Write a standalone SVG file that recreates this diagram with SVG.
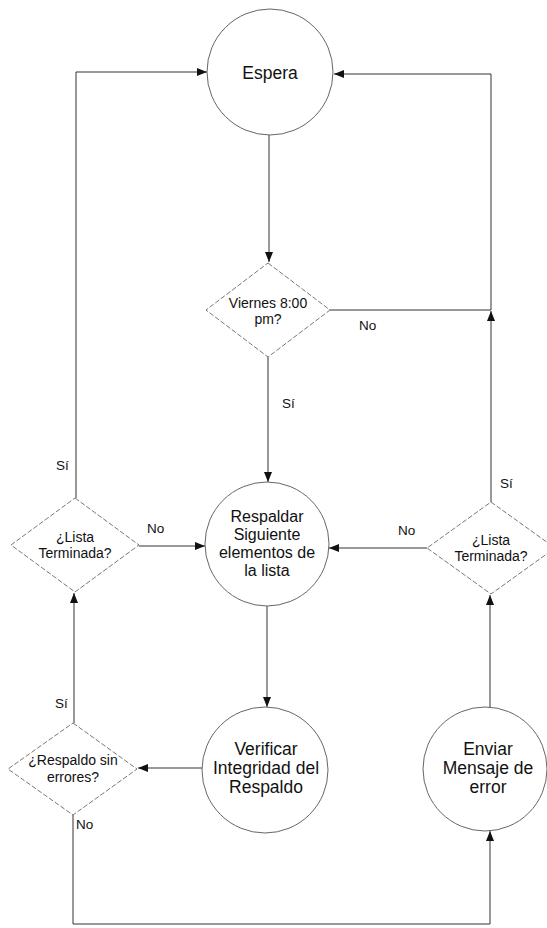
<svg xmlns="http://www.w3.org/2000/svg" width="547" height="928" viewBox="0 0 547 928">
<style>
.c{fill:#fff;stroke:#666;stroke-width:1}
.d{fill:#fff;stroke:#777;stroke-width:1;stroke-dasharray:5 2}
.e{fill:none;stroke:#333;stroke-width:1}
.t{font-family:"Liberation Sans",Arial,sans-serif;font-size:17.5px;fill:#111;text-anchor:middle}
.s{font-size:16px}
.q{font-family:"Liberation Sans",Arial,sans-serif;font-size:14px;fill:#111;text-anchor:middle}
.l{font-family:"Liberation Sans",Arial,sans-serif;font-size:13.5px;fill:#111}
</style>
<defs>
<marker id="a" markerUnits="userSpaceOnUse" markerWidth="10" markerHeight="8" refX="10" refY="4" orient="auto"><path d="M0,0 L10,4 L0,8 Z" fill="#111"/></marker>
</defs>
<rect width="547" height="928" fill="#fff"/>
<g id="connectors">
<path class="e" d="M269,135 L269,262" marker-end="url(#a)"/>
<path class="e" d="M268,357 L268,482" marker-end="url(#a)"/>
<path class="e" d="M330,310 L491,310"/>
<path class="e" d="M491,502 L491,311" marker-end="url(#a)"/>
<path class="e" d="M491,310 L491,74 L334,74" marker-end="url(#a)"/>
<path class="e" d="M76,498 L76,72 L207,72" marker-end="url(#a)"/>
<path class="e" d="M139,546 L205,546" marker-end="url(#a)"/>
<path class="e" d="M427,548 L329,548" marker-end="url(#a)"/>
<path class="e" d="M267,606 L267,707" marker-end="url(#a)"/>
<path class="e" d="M202,768 L138,768" marker-end="url(#a)"/>
<path class="e" d="M74,723 L74,593" marker-end="url(#a)"/>
<path class="e" d="M73,815 L73,924 L490,924 L490,831" marker-end="url(#a)"/>
<path class="e" d="M490,707 L490,595" marker-end="url(#a)"/>
</g>
<g id="labels">
<text class="l" x="359" y="330">No</text>
<text class="l" x="282" y="408">Sí</text>
<text class="l" x="56" y="470">Sí</text>
<text class="l" x="500" y="488">Sí</text>
<text class="l" x="147" y="533">No</text>
<text class="l" x="398" y="535">No</text>
<text class="l" x="55" y="708">Sí</text>
<text class="l" x="76" y="829">No</text>
</g>
<g id="espera">
<circle class="c" cx="270" cy="72" r="63"/>
<text class="t" x="270" y="79">Espera</text>
</g>
<g id="viernes">
<polygon class="d" points="268,263 330,310 268,357 206,310"/>
<text class="q" x="268" y="308">Viernes 8:00</text>
<text class="q" x="268" y="324">pm?</text>
</g>
<g id="respaldar">
<circle class="c" cx="267" cy="544" r="62"/>
<text class="t s" x="267" y="522">Respaldar</text>
<text class="t s" x="267" y="540">Siguiente</text>
<text class="t s" x="267" y="558">elementos de</text>
<text class="t s" x="267" y="576">la lista</text>
</g>
<g id="lista-izq">
<polygon class="d" points="75,498 139,545 75,592 11,545"/>
<text class="q" x="75" y="542">¿Lista</text>
<text class="q" x="75" y="558">Terminada?</text>
</g>
<g id="lista-der">
<polygon class="d" points="491,502 555,548 491,594 427,548"/>
<text class="q" x="491" y="545">¿Lista</text>
<text class="q" x="491" y="561">Terminada?</text>
</g>
<g id="verificar">
<circle class="c" cx="265" cy="770" r="63"/>
<text class="t" x="266" y="755">Verificar</text>
<text class="t" x="266" y="774">Integridad del</text>
<text class="t" x="266" y="793">Respaldo</text>
</g>
<g id="respaldo-sin-errores">
<polygon class="d" points="73,723 137,769 73,815 8,769"/>
<text class="q" x="73" y="765">¿Respaldo sin</text>
<text class="q" x="73" y="782">errores?</text>
</g>
<g id="enviar">
<circle class="c" cx="485" cy="769" r="62"/>
<text class="t" x="488" y="755">Enviar</text>
<text class="t" x="488" y="774">Mensaje de</text>
<text class="t" x="488" y="793">error</text>
</g>
</svg>
